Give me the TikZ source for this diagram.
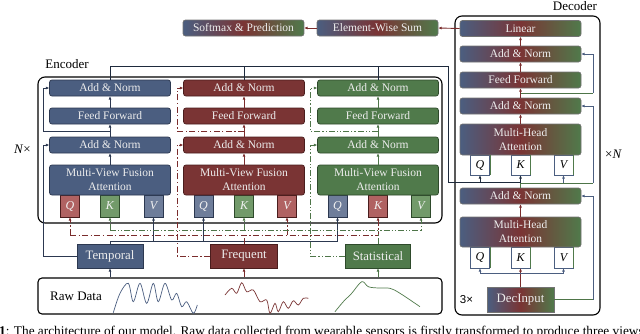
\documentclass[tikz,border=0pt]{standalone}
\usepackage{fontspec}
\setmainfont{Liberation Serif}
\newfontfamily\sansf{Liberation Sans}
\usetikzlibrary{arrows.meta,calc}
\definecolor{cb}{HTML}{4B5E80}
\definecolor{cbd}{HTML}{2C3850}
\definecolor{cr}{HTML}{7A3434}
\definecolor{crd}{HTML}{4A1D1D}
\definecolor{cg}{HTML}{507A4B}
\definecolor{cgd}{HTML}{2E4A2B}
\definecolor{cbl}{HTML}{6E7D9A}
\definecolor{crl}{HTML}{B06262}
\definecolor{cgl}{HTML}{729A6A}
\definecolor{lnr}{HTML}{7A2C2C}
\definecolor{lng}{HTML}{4E7548}
\definecolor{lnk}{HTML}{1E2A3C}
\begin{document}
\begin{tikzpicture}[x=1pt,y=-1pt,
  >={Latex[length=3.2pt,width=3pt]},
  box/.style={rounded corners=2.5pt, minimum width=121pt, minimum height=16pt, inner sep=0pt,
    text=white!93!black, font=\fontsize{11.5}{14}\selectfont, line width=0.7pt},
  bbox/.style={box, fill=cb, draw=cbd},
  rbox/.style={box, fill=cr, draw=crd},
  gbox/.style={box, fill=cg, draw=cgd},
  tall/.style={minimum height=30pt, align=center},
  grad/.style={box, left color=cb, right color=cg, middle color=cr, draw=black!55},
  qk/.style={minimum width=19pt, minimum height=22pt, inner sep=0pt, line width=0.7pt,
    text=white!95!black, font=\fontsize{12}{12}\selectfont\itshape},
  dqk/.style={qk, minimum height=20pt, fill=white, draw=cb, text=black},
  feat/.style={minimum height=24pt, inner sep=0pt, line width=0.7pt,
    text=white!93!black, font=\fontsize{12.8}{14}\selectfont},
  frame/.style={draw=black, line width=1.1pt, inner sep=0pt},
  lbl/.style={font=\fontsize{13}{15}\selectfont, inner sep=0pt, anchor=base},
  lb/.style={draw=cbd, line width=0.9pt},
  lr/.style={draw=lnr, line width=0.9pt},
  lg/.style={draw=lng, line width=0.9pt},
  dk/.style={draw=lnk, line width=0.9pt},
  rdash/.style={lr, dash pattern=on 6pt off 2.5pt on 1.2pt off 2.5pt},
  gdash/.style={lg, dash pattern=on 6pt off 2pt on 1.2pt off 2pt on 1.2pt off 2pt},
  dr/.style={draw=lnr, line width=0.9pt},
  dbl/.style={draw=cb, line width=0.9pt},
  dgl/.style={draw=lng, line width=0.9pt}
]
\useasboundingbox (0,0) rectangle (640,333);

% frames
\node[frame, rounded corners=7pt, minimum width=404pt, minimum height=146pt] (enc) at (240,150) {};
\node[frame, rounded corners=7pt, minimum width=145pt, minimum height=299pt] (dec) at (527.5,165.5) {};
\node[frame, rounded corners=4pt, minimum width=404pt, minimum height=36pt] (RD) at (240,296) {};
\node[lbl] (encl) at (67,68) {Encoder};
\node[lbl] (decl) at (575,10) {Decoder};
\node[lbl] (nx) at (22.5,153) {\textit{N}×};
\node[lbl] (xn) at (613.5,158) {×\textit{N}};
\node[lbl, font=\sansf\fontsize{11.5}{13}\selectfont] (three) at (466.5,303) {3×};
\node[font=\fontsize{13}{15}\selectfont, anchor=west, inner sep=0pt] (rawt) at (50,296) {Raw Data};

% waves
\draw[cb, line width=0.7pt] plot[smooth, tension=0.55] coordinates {(113.3,312.7) (120,293.3) (128.3,283.3) (133.3,301.7) (140,283.3) (146.7,303.3) (153.3,283.3) (158.3,301.7) (165,283.3) (171.7,300) (176.7,293.3) (181.7,306.7) (186.7,301.7) (193.3,313.3) (197.3,305)};
\draw[cr, line width=0.7pt] plot[smooth, tension=0.55] coordinates {(225,295) (231.7,288.3) (236.7,293.3) (241.7,282.7) (246.7,291.7) (253.3,290) (260,301.7) (266.7,300) (270,313.3) (275,303.3) (278.3,311.7) (283.3,301.7) (288.3,308.3) (293.3,300.7) (298.3,305) (303.3,298.3) (308.3,298.3)};
\draw[cg, line width=0.7pt] plot[smooth, tension=0.55] coordinates {(335,311.7) (343.3,301.7) (351.7,293.3) (361.7,281.7) (368.3,286.7) (378,288) (390,288.3) (400,293.3) (420,306.7)};

% top boxes
\node[grad] (Sm) at (243.5,28) {Softmax \& Prediction};
\node[grad] (Ew) at (377.5,28) {Element-Wise Sum};

% encoder blue column
\node[bbox] (Ab1) at (110,88) {Add \& Norm};
\node[bbox] (Fb) at (110,116) {Feed Forward};
\node[bbox] (Ab2) at (110,145) {Add \& Norm};
\node[qk, fill=crl, draw=crd] (Qb) at (70,206) {Q};
\node[qk, fill=cgl, draw=cgd] (Kb) at (110,206) {K};
\node[qk, fill=cbl, draw=cbd] (Vb) at (153.5,206) {V};
\node[bbox, tall] (Mb) at (110,180) {Multi-View Fusion\\Attention};
% red column
\node[rbox] (Ar1) at (244,88) {Add \& Norm};
\node[rbox] (Fr) at (244,116) {Feed Forward};
\node[rbox] (Ar2) at (244,145) {Add \& Norm};
\node[qk, fill=cbl, draw=cbd] (Qr) at (203.5,206) {Q};
\node[qk, fill=cgl, draw=cgd] (Kr) at (244,206) {K};
\node[qk, fill=crl, draw=crd] (Vr) at (287,206) {V};
\node[rbox, tall] (Mr) at (244,180) {Multi-View Fusion\\Attention};
% green column
\node[gbox] (Ag1) at (378,88) {Add \& Norm};
\node[gbox] (Fg) at (378,116) {Feed Forward};
\node[gbox] (Ag2) at (378,145) {Add \& Norm};
\node[qk, fill=cbl, draw=cbd] (Qg) at (337.5,206) {Q};
\node[qk, fill=crl, draw=crd] (Kg) at (378,206) {K};
\node[qk, fill=cgl, draw=cgd] (Vg) at (421,206) {V};
\node[gbox, tall] (Mg) at (378,180) {Multi-View Fusion\\Attention};

% features
\node[feat, fill=cb, draw=cbd, minimum width=66pt] (Tm) at (110,256) {Temporal};
\node[feat, fill=cr, draw=crd, minimum width=67pt] (Fq) at (244,256) {Frequent};
\node[feat, fill=cg, draw=cgd, minimum width=65pt] (St) at (378,256) {Statistical};

% decoder
\node[grad] (Lin) at (520.5,28.5) {Linear};
\node[grad] (Dan) at (520.5,54) {Add \& Norm};
\node[grad] (Dff) at (520.5,80) {Feed Forward};
\node[grad] (Da1) at (520.5,106) {Add \& Norm};
\node[dqk] (Dq1) at (480,165) {Q};
\node[dqk] (Dk1) at (520.5,165) {K};
\node[dqk] (Dv1) at (563.5,165) {V};
\node[grad, minimum height=31pt, align=center] (Dm1) at (520.5,139.5) {Multi-Head\\Attention};
\node[grad] (Da2) at (520.5,196) {Add \& Norm};
\node[dqk, minimum height=21pt] (Dq2) at (480,257.5) {Q};
\node[dqk, minimum height=21pt] (Dk2) at (520.5,257.5) {K};
\node[dqk, minimum height=21pt] (Dv2) at (563.5,257.5) {V};
\node[grad, tall] (Dm2) at (520.5,232) {Multi-Head\\Attention};
\node[grad, rounded corners=0pt, minimum width=67pt, minimum height=25pt, font=\fontsize{12.8}{14}\selectfont] (Di) at (520.5,299.5) {DecInput};
\foreach \n in {Dq1,Dk1,Dv1,Dq2,Dk2,Dv2}{
  \draw[cg, line width=0.7pt] (\n.north east) -- (\n.south east);
}

% encoder column connectors
\draw[lb,->] (Mb.north) -- (Ab2.south);
\draw[lb,->] (Ab2.north) -- (Fb.south);
\draw[lb,->] (Fb.north) -- (Ab1.south);
\draw[lb,->] (Ab2.north |- 0,131) -| (43,88) -- (Ab1.west);
\draw[lb,->] (Tm.west) -| (43,145) -- (Ab2.west);

\draw[lr,->] (Mr.north) -- (Ar2.south);
\draw[lr,->] (Ar2.north) -- (Fr.south);
\draw[lr,->] (Fr.north) -- (Ar1.south);
\draw[rdash,->] (Ar2.north |- 0,131) -| (177,88) -- (Ar1.west);
\draw[rdash,->] (Fq.west) -| (177,145) -- (Ar2.west);

\draw[lg,->] (Mg.north) -- (Ag2.south);
\draw[lg,->] (Ag2.north) -- (Fg.south);
\draw[lg,->] (Fg.north) -- (Ag1.south);
\draw[gdash,->] (Ag2.north |- 0,131) -| (310,88) -- (Ag1.west);
\draw[gdash,->] (St.west) -| (310,145) -- (Ag2.west);

% encoder output to decoder
\draw[dk,->] (Ab1.north) |- (448,66) |- (Dk1.south |- 0,182) -- (Dk1.south);
\draw[dk] (Ar1.north) -- (Ar1.north |- 0,66);
\draw[dk] (Ag1.north) -- (Ag1.north |- 0,66);
\draw[dk,->] (Dq1.south |- 0,182) -- (Dq1.south);

% features to Q K V
\draw[lb,->] (Tm.north) |- (Qg.south |- 0,241) -- (Qg.south);
\draw[lb,->] (Vb.south |- 0,241) -- (Vb.south);
\draw[lb,->] (Qr.south |- 0,241) -- (Qr.south);

\draw[rdash] (Fq.north) -- (Fq.north |- 0,235);
\draw[rdash,->] (Qb.south |- 0,235) -| (Kg.south);
\draw[rdash,->] (Qb.south |- 0,235) -- (Qb.south);
\draw[rdash,->] (Vr.south |- 0,235) -- (Vr.south);

\draw[gdash] (St.north) -- (St.north |- 0,230);
\draw[gdash,->] (Kb.south |- 0,230) -| (Vg.south);
\draw[gdash,->] (Kb.south |- 0,230) -- (Kb.south);
\draw[gdash,->] (Kr.south |- 0,230) -- (Kr.south);

% raw data to features
\draw[lb,->] (Tm.south |- RD.north) -- (Tm.south);
\draw[lr,->] (Fq.south |- RD.north) -- (Fq.south);
\draw[lg,->] (St.south |- RD.north) -- (St.south);

% decoder connectors
\draw[dr,->] (Di.north) -- (Dk2.south);
\draw[dbl] (Dq2.south |- 0,273) -- (Dv2.south |- 0,273);
\draw[dbl,->] (Dq2.south |- 0,273) -- (Dq2.south);
\draw[dbl,->] (Dv2.south |- 0,273) -- (Dv2.south);
\draw[dgl] (Di.east) -- (593,299.5);
\draw[dbl,->] (593,299.5) |- (Da2.east);
\draw[dr,->] (Dm2.north) -- (Da2.south);
\draw[dgl] (Da2.north) |- (593,183);
\draw[dbl,->] (593,183) |- (Da1.east);
\draw[dbl,->] (Dv1.south |- 0,183) -- (Dv1.south);
\draw[dr,->] (Dm1.north) -- (Da1.south);
\draw[dr,->] (Da1.north) -- (Dff.south);
\draw[dgl] (520.5,93) -- (593,93);
\draw[dbl,->] (593,93) |- (Dan.east);
\draw[dr,->] (Dff.north) -- (Dan.south);
\draw[dr,->] (Dan.north) -- (Lin.south);
\draw[dr,->] (Lin.west) -- (Ew.east);
\draw[dr,->] (Ew.west) -- (Sm.east);

% caption (cut by the lower edge)
\node[font=\fontsize{13.3}{15}\selectfont, anchor=base west, inner sep=0pt] (cap) at (-1,335.5)
  {\textbf{1}: The architecture of our model. Raw data collected from wearable sensors is firstly transformed to produce three views};
\end{tikzpicture}
\end{document}
